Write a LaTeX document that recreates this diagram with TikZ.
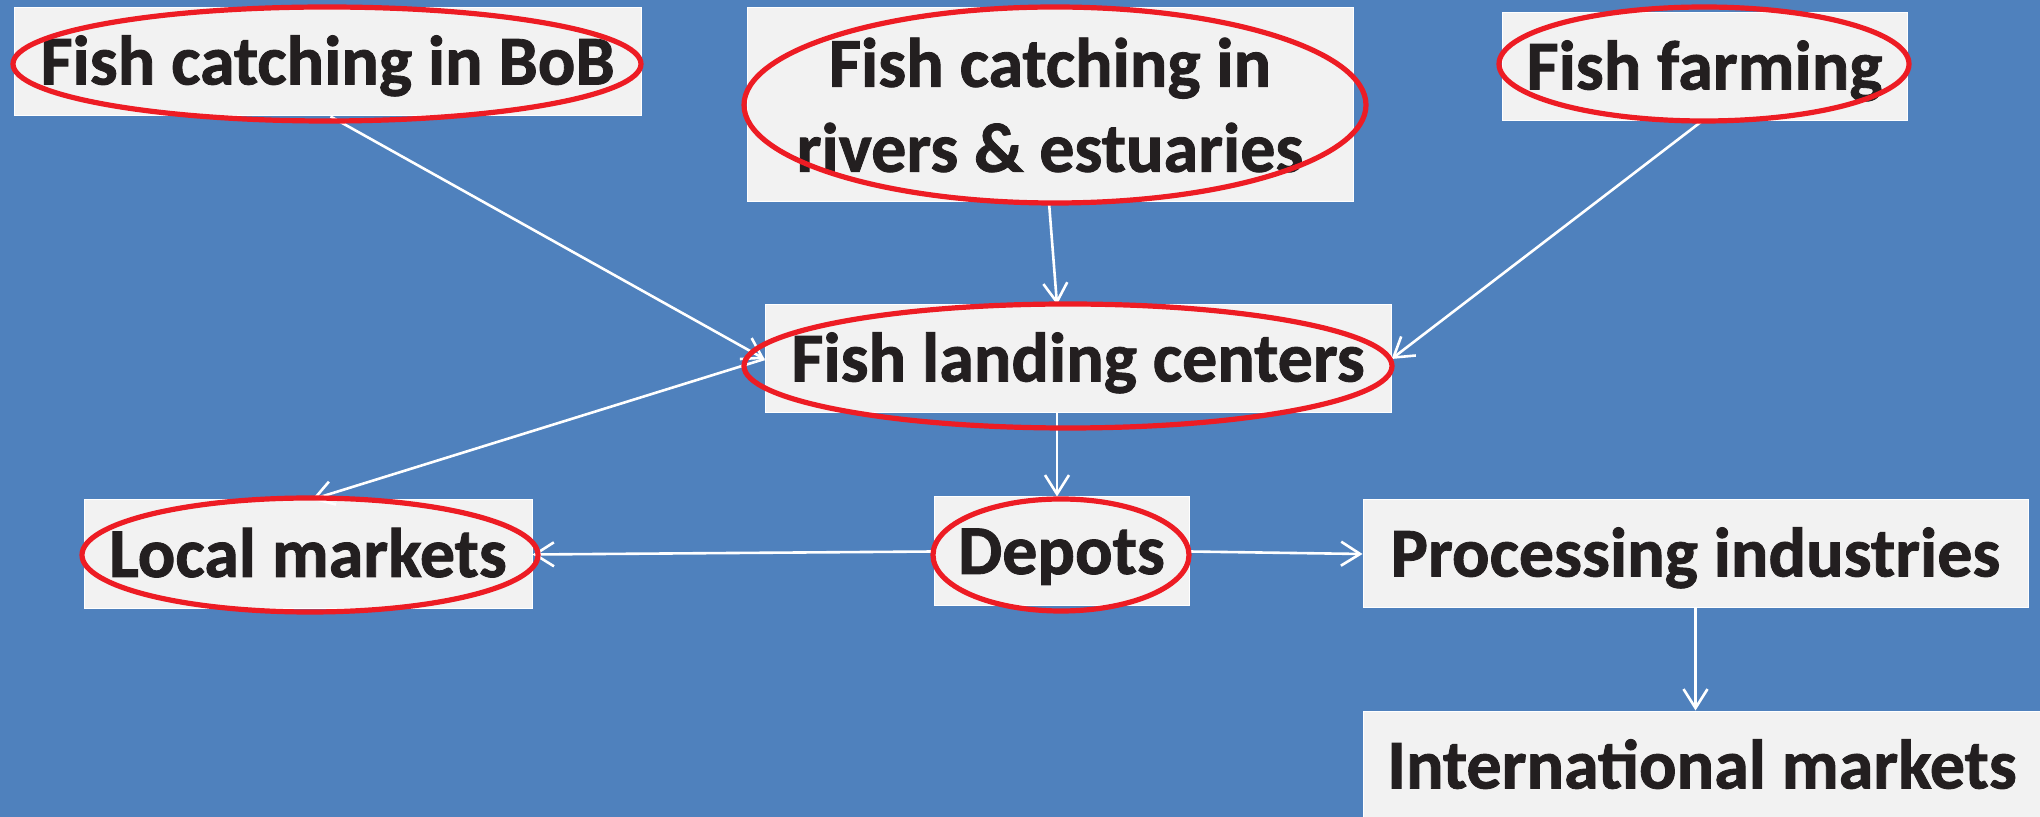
\documentclass[tikz,border=0pt]{standalone}
\usepackage{fontspec}
\setmainfont{Carlito}[BoldFeatures={FakeBold=1.2}]
\usetikzlibrary{arrows.meta,calc,shapes.geometric}
\definecolor{bg}{HTML}{4F81BD}
\definecolor{boxfill}{HTML}{F2F2F2}
\definecolor{txt}{HTML}{231F20}
\definecolor{ringred}{HTML}{ED1C24}
\begin{document}
\begin{tikzpicture}[x=0.5pt,y=-0.5pt,
  box/.style={draw=white,line width=0.5pt,fill=boxfill,inner sep=0pt,
    font=\fontsize{35}{42.5}\selectfont\bfseries,text=txt,align=center},
  one/.style={text height=22.5pt,text depth=0pt},
  ringc/.style={draw=ringred,line width=2.6pt,ellipse,inner sep=0pt},
  flow/.style={draw=white,line width=1.3pt,-{Straight Barb[length=9.5pt,width=12pt]}}]
\fill[bg] (0,0) rectangle (2040,817);
\useasboundingbox (0,0) rectangle (2040,817);
\clip (0,0) rectangle (2040,817);
% boxes
\node[box,one,minimum width=313.5pt,minimum height=54pt] (bob) at (327.5,62) {Fish catching in BoB};
\node[box,minimum width=303pt,minimum height=97pt] (riv) at (1050,105) {Fish catching in\\rivers \& estuaries};
\node[box,one,minimum width=202.5pt,minimum height=54pt] (farm) at (1704.5,67) {Fish farming};
\node[box,one,minimum width=313pt,minimum height=54pt] (land) at (1078,359) {Fish landing centers};
\node[box,one,minimum width=224pt,minimum height=54.5pt] (local) at (308,554.5) {Local markets};
\node[box,one,minimum width=127.5pt,minimum height=54.5pt] (dep) at (1061.5,551.5) {Depots};
\node[box,one,minimum width=332.5pt,minimum height=54pt] (proc) at (1695.5,554) {Processing industries};
\node[box,one,minimum width=339pt,minimum height=55pt] (intl) at (1702,766) {International markets};
% connectors
\draw[flow] ($(bob.south)+(3,0)$) -- (land.west);
\draw[flow] ($(riv.south)+(-1,0)$) -- ($(land.north)+(-21,0)$);
\draw[flow] ($(farm.south)+(-3,0)$) -- (land.east);
\draw[flow] (land.west) -- ($(local.north)+(4,0)$);
\draw[flow] ($(land.south)+(-21,0)$) -- ($(dep.north)+(-4.5,0)$);
\draw[flow] (dep.west) -- (local.east);
\draw[flow] (dep.east) -- (proc.west);
\draw[flow] (proc.south) -- (proc.south |- intl.north);
% red rings
\node[ringc,minimum width=314pt,minimum height=57pt] (r1) at (327,64) {};
\node[ringc,minimum width=311pt,minimum height=98pt] (r2) at (1055,105) {};
\node[ringc,minimum width=205pt,minimum height=57pt] (r3) at (1704,64) {};
\node[ringc,minimum width=324pt,minimum height=62pt] (r4) at (1068,366) {};
\node[ringc,minimum width=228pt,minimum height=57pt] (r5) at (310,555) {};
\node[ringc,minimum width=128pt,minimum height=56pt] (r6) at (1061,555) {};
\end{tikzpicture}
\end{document}
